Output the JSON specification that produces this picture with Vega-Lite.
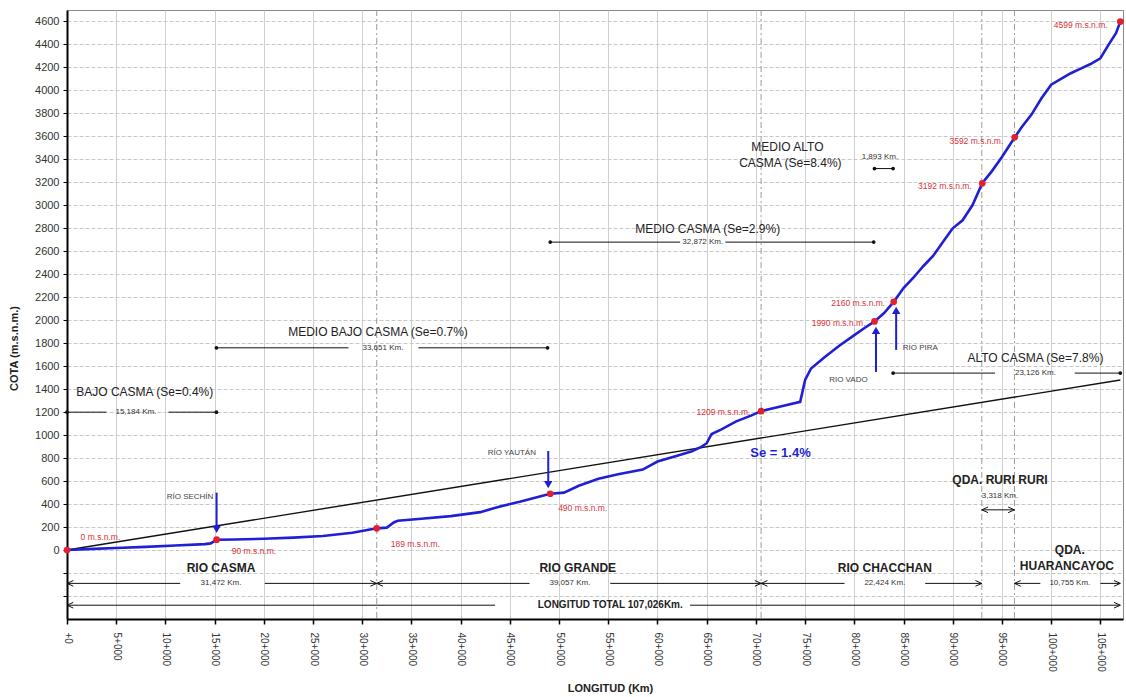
{
  "$schema": "https://vega.github.io/schema/vega-lite/v6.json",
  "autosize": {"type": "none"},
  "padding": {"left": 67, "top": 10, "right": 3, "bottom": 78},
  "width": 1056,
  "height": 609,
  "background": "white",
  "config": {
    "font": "Liberation Sans",
    "view": {"stroke": "#888", "strokeWidth": 1}
  },
  "datasets": {
    "profile": [
      {"km": 0, "m": 0}, {"km": 2, "m": 8}, {"km": 5, "m": 18}, {"km": 8, "m": 28}, {"km": 11, "m": 40},
      {"km": 14, "m": 52}, {"km": 14.6, "m": 58}, {"km": 15.2, "m": 90}, {"km": 17, "m": 92}, {"km": 20, "m": 98},
      {"km": 23, "m": 108}, {"km": 26, "m": 122}, {"km": 29, "m": 150}, {"km": 31.47, "m": 189}, {"km": 32.5, "m": 195},
      {"km": 33.2, "m": 240}, {"km": 33.6, "m": 255}, {"km": 36, "m": 272}, {"km": 39, "m": 295}, {"km": 42, "m": 330},
      {"km": 44, "m": 380}, {"km": 46, "m": 420}, {"km": 49.1, "m": 490}, {"km": 50.5, "m": 500}, {"km": 52, "m": 560},
      {"km": 54, "m": 620}, {"km": 56, "m": 660}, {"km": 58.5, "m": 700}, {"km": 60, "m": 770}, {"km": 62, "m": 820},
      {"km": 63.5, "m": 860}, {"km": 64.5, "m": 900}, {"km": 65, "m": 930}, {"km": 65.5, "m": 1010}, {"km": 66.5, "m": 1050},
      {"km": 68, "m": 1120}, {"km": 69.5, "m": 1170}, {"km": 70.53, "m": 1209}, {"km": 72.5, "m": 1250}, {"km": 74.5, "m": 1290},
      {"km": 75, "m": 1480}, {"km": 75.6, "m": 1580}, {"km": 77, "m": 1680}, {"km": 78.5, "m": 1780}, {"km": 80, "m": 1870},
      {"km": 81, "m": 1930}, {"km": 82.05, "m": 1990}, {"km": 83, "m": 2060}, {"km": 84, "m": 2160}, {"km": 85, "m": 2280},
      {"km": 86, "m": 2370}, {"km": 87, "m": 2470}, {"km": 88, "m": 2560}, {"km": 89, "m": 2680}, {"km": 90, "m": 2800},
      {"km": 91, "m": 2870}, {"km": 92, "m": 3000}, {"km": 93, "m": 3192}, {"km": 94, "m": 3300}, {"km": 95, "m": 3420},
      {"km": 96.3, "m": 3592}, {"km": 97, "m": 3680}, {"km": 98, "m": 3790}, {"km": 99, "m": 3930}, {"km": 100, "m": 4050},
      {"km": 101, "m": 4100}, {"km": 102, "m": 4150}, {"km": 103, "m": 4190}, {"km": 104, "m": 4230}, {"km": 105, "m": 4280},
      {"km": 106, "m": 4420}, {"km": 106.6, "m": 4500}, {"km": 107.026, "m": 4599}
    ],
    "se": [{"km": 0, "m": 0}, {"km": 107.026, "m": 1480}],
    "dots": [
      {"km": 0, "m": 0, "t": "0 m.s.n.m.", "lx": 3.4, "ly": 113},
      {"km": 15.2, "m": 90, "t": "90 m.s.n.m.", "lx": 19.0, "ly": -9},
      {"km": 31.47, "m": 189, "t": "189 m.s.n.m.", "lx": 35.4, "ly": 52},
      {"km": 49.1, "m": 490, "t": "490 m.s.n.m.", "lx": 52.4, "ly": 366},
      {"km": 70.53, "m": 1209, "t": "1209 m.s.n.m.", "lx": 66.7, "ly": 1202},
      {"km": 82.05, "m": 1990, "t": "1990 m.s.n.m.", "lx": 78.4, "ly": 1977},
      {"km": 84, "m": 2160, "t": "2160 m.s.n.m.", "lx": 80.4, "ly": 2151},
      {"km": 93, "m": 3192, "t": "3192 m.s.n.m.", "lx": 89.2, "ly": 3170},
      {"km": 96.3, "m": 3592, "t": "3592 m.s.n.m.", "lx": 92.4, "ly": 3563},
      {"km": 107.026, "m": 4599, "t": "4599 m.s.n.m.", "lx": 103.0, "ly": 4573}
    ],
    "dims": [
      {"x1": 0, "x2": 4.0, "y": 1200}, {"x1": 10.3, "x2": 15.18, "y": 1200},
      {"x1": 15.18, "x2": 28.6, "y": 1760}, {"x1": 35.7, "x2": 48.83, "y": 1760},
      {"x1": 49.1, "x2": 62.3, "y": 2680}, {"x1": 66.9, "x2": 81.97, "y": 2680},
      {"x1": 82.05, "x2": 83.94, "y": 3320},
      {"x1": 83.94, "x2": 94.3, "y": 1540}, {"x1": 102.4, "x2": 107.026, "y": 1540},
      {"x1": 0, "x2": 11.5, "y": -290}, {"x1": 20.1, "x2": 31.47, "y": -290},
      {"x1": 31.47, "x2": 47, "y": -290}, {"x1": 55.2, "x2": 70.53, "y": -290},
      {"x1": 70.53, "x2": 79, "y": -290}, {"x1": 87.2, "x2": 92.95, "y": -290},
      {"x1": 96.27, "x2": 98.9, "y": -290}, {"x1": 105, "x2": 107.026, "y": -290},
      {"x1": 92.95, "x2": 96.27, "y": 350},
      {"x1": 0, "x2": 43.5, "y": -480}, {"x1": 63.3, "x2": 107.026, "y": -480}
    ],
    "dimdots": [
      {"km": 0, "m": 1200}, {"km": 15.18, "m": 1200},
      {"km": 15.18, "m": 1760}, {"km": 48.83, "m": 1760},
      {"km": 49.1, "m": 2680}, {"km": 81.97, "m": 2680},
      {"km": 82.05, "m": 3320}, {"km": 83.94, "m": 3320},
      {"km": 83.94, "m": 1540}, {"km": 107.026, "m": 1540}
    ],
    "heads": [
      {"km": 0, "m": -290, "d": "L"}, {"km": 31.47, "m": -290, "d": "R"},
      {"km": 31.47, "m": -290, "d": "L"}, {"km": 70.53, "m": -290, "d": "R"},
      {"km": 70.53, "m": -290, "d": "L"}, {"km": 92.95, "m": -290, "d": "R"},
      {"km": 96.27, "m": -290, "d": "L"}, {"km": 107.026, "m": -290, "d": "R"},
      {"km": 92.95, "m": 350, "d": "L"}, {"km": 96.27, "m": 350, "d": "R"},
      {"km": 0, "m": -480, "d": "L"}, {"km": 107.026, "m": -480, "d": "R"}
    ],
    "bounds": [{"km": 31.472}, {"km": 70.529}, {"km": 92.953}, {"km": 96.271}],
    "trib": [
      {"km": 15.2, "y1": 500, "y2": 190, "hy": 180, "d": "down"},
      {"km": 48.9, "y1": 862, "y2": 580, "hy": 570, "d": "down"},
      {"km": 82.2, "y1": 1550, "y2": 1900, "hy": 1912, "d": "up"},
      {"km": 84.25, "y1": 1742, "y2": 2075, "hy": 2086, "d": "up"}
    ],
    "labels": [
      {"km": 7.9, "m": 1376, "t": "BAJO CASMA (Se=0.4%)", "s": "sec"},
      {"km": 31.6, "m": 1899, "t": "MEDIO BAJO CASMA (Se=0.7%)", "s": "sec"},
      {"km": 65.1, "m": 2796, "t": "MEDIO CASMA (Se=2.9%)", "s": "sec"},
      {"km": 73.2, "m": 3511, "t": "MEDIO ALTO", "s": "sec"},
      {"km": 73.5, "m": 3371, "t": "CASMA (Se=8.4%)", "s": "sec"},
      {"km": 98.4, "m": 1672, "t": "ALTO CASMA (Se=7.8%)", "s": "sec"},
      {"km": 7.0, "m": 1200, "t": "15,184 Km.", "s": "km"},
      {"km": 32.1, "m": 1760, "t": "33,651 Km.", "s": "km"},
      {"km": 64.6, "m": 2680, "t": "32,872 Km.", "s": "km"},
      {"km": 82.6, "m": 3423, "t": "1,893 Km.", "s": "km"},
      {"km": 98.4, "m": 1540, "t": "23,126 Km.", "s": "km"},
      {"km": 94.8, "m": 470, "t": "3,318 Km.", "s": "km"},
      {"km": 15.65, "m": -290, "t": "31,472 Km.", "s": "km"},
      {"km": 51.1, "m": -290, "t": "39,057 Km.", "s": "km"},
      {"km": 83.1, "m": -290, "t": "22,424 Km.", "s": "km"},
      {"km": 101.9, "m": -290, "t": "10,755 Km.", "s": "km"},
      {"km": 15.65, "m": -157, "t": "RIO CASMA", "s": "riv"},
      {"km": 51.9, "m": -157, "t": "RIO GRANDE", "s": "riv"},
      {"km": 83.1, "m": -157, "t": "RIO CHACCHAN", "s": "riv"},
      {"km": 101.9, "m": 0, "t": "QDA.", "s": "riv"},
      {"km": 101.6, "m": -140, "t": "HUARANCAYOC", "s": "riv"},
      {"km": 94.8, "m": 610, "t": "QDA. RURI RURI", "s": "riv"},
      {"km": 55.2, "m": -480, "t": "LONGITUD TOTAL  107,026Km.", "s": "tot"},
      {"km": 72.5, "m": 845, "t": "Se = 1.4%", "s": "se"},
      {"km": 12.5, "m": 462, "t": "RÍO SECHÍN", "s": "trib"},
      {"km": 45.2, "m": 845, "t": "RÍO YAUTÁN", "s": "trib"},
      {"km": 79.4, "m": 1481, "t": "RIO VADO", "s": "trib"},
      {"km": 86.7, "m": 1760, "t": "RIO PIRA", "s": "trib"}
    ]
  },
  "encoding": {
    "x": {
      "field": "km", "type": "quantitative",
      "scale": {"domain": [0, 107.3], "nice": false, "zero": false},
      "axis": {
        "values": [0, 5, 10, 15, 20, 25, 30, 35, 40, 45, 50, 55, 60, 65, 70, 75, 80, 85, 90, 95, 100, 105],
        "labelExpr": "datum.value == 0 ? '+0' : datum.value + '+000'",
        "labelAngle": 90, "labelAlign": "left", "labelBaseline": "middle",
        "labelFontSize": 10, "labelColor": "#333", "labelPadding": 8,
        "grid": true, "gridColor": "#cfcfcf", "gridWidth": 1,
        "domainColor": "#000", "domainWidth": 2, "tickColor": "#000", "tickSize": 5, "tickWidth": 1.5,
        "title": "LONGITUD (Km)", "titleFontSize": 11, "titleFontWeight": "bold", "titleColor": "#222",
        "titleX": 543, "titleY": 69, "titleBaseline": "middle", "titleAnchor": null
      }
    },
    "y": {
      "field": "m", "type": "quantitative",
      "scale": {"domain": [-600, 4700], "nice": false, "zero": false},
      "axis": {
        "values": [-400, -200, 0, 200, 400, 600, 800, 1000, 1200, 1400, 1600, 1800, 2000, 2200, 2400, 2600, 2800, 3000, 3200, 3400, 3600, 3800, 4000, 4200, 4400, 4600],
        "labelExpr": "datum.value < 0 ? '' : datum.label",
        "format": "d",
        "labelFontSize": 11, "labelColor": "#333", "labelPadding": 4,
        "grid": true, "gridColor": "#c8c8c8", "gridDash": [4, 2], "gridWidth": 1,
        "domainColor": "#000", "domainWidth": 2, "tickColor": "#000", "tickSize": 4,
        "title": "COTA (m.s.n.m.)", "titleFontSize": 11, "titleFontWeight": "bold", "titleColor": "#222",
        "titleX": -48, "titleY": 338, "titleAnchor": null
      }
    }
  },
  "layer": [
    {
      "data": {"name": "bounds"},
      "mark": {"type": "rule", "color": "#9a9a9a", "strokeDash": [6, 3, 2, 3], "strokeWidth": 1},
      "encoding": {"x": {"field": "km", "type": "quantitative"}, "y": null}
    },
    {
      "data": {"name": "se"},
      "mark": {"type": "line", "color": "#111", "strokeWidth": 1.4},
      "encoding": {}
    },
    {
      "data": {"name": "profile"},
      "mark": {"type": "line", "color": "#1f1fd6", "strokeWidth": 2.6},
      "encoding": {}
    },
    {
      "data": {"name": "dims"},
      "mark": {"type": "rule", "color": "#111", "strokeWidth": 1},
      "encoding": {
        "x": {"field": "x1", "type": "quantitative"},
        "x2": {"field": "x2"},
        "y": {"field": "y", "type": "quantitative"}
      }
    },
    {
      "data": {"name": "dimdots"},
      "mark": {"type": "point", "filled": true, "color": "#111", "size": 14, "opacity": 1},
      "encoding": {}
    },
    {
      "data": {"name": "heads"},
      "transform": [{"filter": "datum.d == 'L'"}],
      "mark": {"type": "point", "filled": false, "color": "#111", "size": 160, "strokeWidth": 1, "opacity": 1, "shape": "M1,-0.45L0,0L1,0.45"},
      "encoding": {}
    },
    {
      "data": {"name": "heads"},
      "transform": [{"filter": "datum.d == 'R'"}],
      "mark": {"type": "point", "filled": false, "color": "#111", "size": 160, "strokeWidth": 1, "opacity": 1, "shape": "M-1,-0.45L0,0L-1,0.45"},
      "encoding": {}
    },
    {
      "data": {"name": "trib"},
      "mark": {"type": "rule", "color": "#1f1fd6", "strokeWidth": 2},
      "encoding": {
        "y": {"field": "y1", "type": "quantitative"},
        "y2": {"field": "y2"}
      }
    },
    {
      "data": {"name": "trib"},
      "transform": [{"filter": "datum.d == 'down'"}],
      "mark": {"type": "point", "filled": true, "color": "#1f1fd6", "size": 70, "opacity": 1, "shape": "triangle-down"},
      "encoding": {"y": {"field": "hy", "type": "quantitative"}}
    },
    {
      "data": {"name": "trib"},
      "transform": [{"filter": "datum.d == 'up'"}],
      "mark": {"type": "point", "filled": true, "color": "#1f1fd6", "size": 70, "opacity": 1, "shape": "triangle-up"},
      "encoding": {"y": {"field": "hy", "type": "quantitative"}}
    },
    {
      "data": {"name": "dots"},
      "mark": {"type": "circle", "color": "#e3202c", "size": 45, "opacity": 1},
      "encoding": {}
    },
    {
      "data": {"name": "dots"},
      "mark": {"type": "text", "color": "#d8323a", "fontSize": 8.5, "align": "center", "baseline": "middle"},
      "encoding": {
        "x": {"field": "lx", "type": "quantitative"},
        "y": {"field": "ly", "type": "quantitative"},
        "text": {"field": "t"}
      }
    },
    {
      "data": {"name": "labels"},
      "transform": [{"filter": "datum.s == 'km'"}],
      "mark": {"type": "text", "color": "#333", "fontSize": 8, "align": "center", "baseline": "middle"},
      "encoding": {"text": {"field": "t"}}
    },
    {
      "data": {"name": "labels"},
      "transform": [{"filter": "datum.s == 'sec'"}],
      "mark": {"type": "text", "color": "#222", "fontSize": 12, "align": "center", "baseline": "middle"},
      "encoding": {"text": {"field": "t"}}
    },
    {
      "data": {"name": "labels"},
      "transform": [{"filter": "datum.s == 'riv'"}],
      "mark": {"type": "text", "color": "#222", "fontSize": 12, "fontWeight": "bold", "align": "center", "baseline": "middle"},
      "encoding": {"text": {"field": "t"}}
    },
    {
      "data": {"name": "labels"},
      "transform": [{"filter": "datum.s == 'tot'"}],
      "mark": {"type": "text", "color": "#222", "fontSize": 10, "fontWeight": "bold", "align": "center", "baseline": "middle"},
      "encoding": {"text": {"field": "t"}}
    },
    {
      "data": {"name": "labels"},
      "transform": [{"filter": "datum.s == 'se'"}],
      "mark": {"type": "text", "color": "#1f1fd6", "fontSize": 13, "fontWeight": "bold", "align": "center", "baseline": "middle"},
      "encoding": {"text": {"field": "t"}}
    },
    {
      "data": {"name": "labels"},
      "transform": [{"filter": "datum.s == 'trib'"}],
      "mark": {"type": "text", "color": "#444", "fontSize": 8, "align": "center", "baseline": "middle"},
      "encoding": {"text": {"field": "t"}}
    }
  ]
}
